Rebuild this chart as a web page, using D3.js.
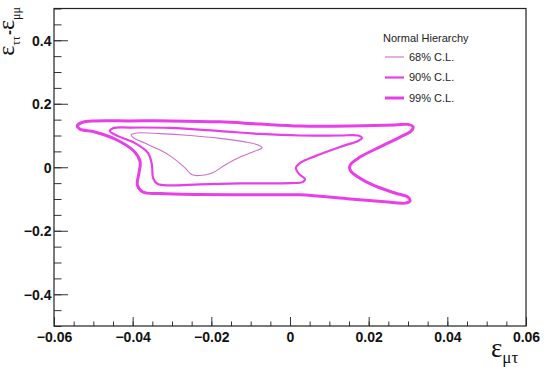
<!DOCTYPE html>
<meta charset='utf-8'>
<head>
  <title>NSI contours</title>
  <style>
    body { margin: 0; background: #fff; }
    svg { display: block; }
  </style>
</head>
<body>
  <div id='chart'></div>
</body>
<script src='https://d3js.org/d3.v7.min.js'></script>
<script>

// contour points [eps_mutau, eps_tautau - eps_mumu]
var cl68 = [
  [-0.0404, 0.102], [-0.0389, 0.108], [-0.0330, 0.106], [-0.0254, 0.100],
  [-0.0178, 0.091], [-0.0114, 0.080], [-0.0081, 0.070], [-0.0071, 0.061],
  [-0.0089, 0.051], [-0.0127, 0.032], [-0.0165, 0.007], [-0.0198, -0.018],
  [-0.0229, -0.026], [-0.0249, -0.024], [-0.0267, -0.002], [-0.0300, 0.032],
  [-0.0330, 0.054], [-0.0369, 0.076], [-0.0397, 0.092]
];
var cl90 = [
  [-0.0458, 0.114], [-0.0447, 0.124], [-0.0407, 0.125], [-0.0305, 0.124],
  [-0.0178, 0.114], [-0.0076, 0.105], [0.0025, 0.100], [0.0127, 0.100],
  [0.0173, 0.100], [0.0183, 0.092], [0.0173, 0.083], [0.0127, 0.064],
  [0.0064, 0.035], [0.0025, 0.013], [0.0015, -0.002], [0.0023, -0.021],
  [0.0038, -0.037], [0.0033, -0.046], [0.0000, -0.050], [-0.0127, -0.051],
  [-0.0229, -0.054], [-0.0305, -0.057], [-0.0336, -0.053], [-0.0348, -0.034],
  [-0.0351, 0.007], [-0.0361, 0.045], [-0.0394, 0.076], [-0.0437, 0.098]
];
var cl99 = [
  [-0.0541, 0.130], [-0.0529, 0.141], [-0.0496, 0.146], [-0.0407, 0.146],
  [-0.0305, 0.146], [-0.0178, 0.143], [-0.0076, 0.136], [0.0025, 0.130],
  [0.0153, 0.130], [0.0267, 0.133], [0.0300, 0.135], [0.0313, 0.127],
  [0.0308, 0.114], [0.0280, 0.095], [0.0229, 0.064], [0.0178, 0.032],
  [0.0153, 0.007], [0.0153, -0.009], [0.0173, -0.031], [0.0216, -0.059],
  [0.0267, -0.081], [0.0300, -0.094], [0.0305, -0.106], [0.0292, -0.113],
  [0.0241, -0.109], [0.0153, -0.100], [0.0025, -0.087], [-0.0076, -0.087],
  [-0.0229, -0.086], [-0.0330, -0.083], [-0.0374, -0.078], [-0.0388, -0.056],
  [-0.0384, -0.018], [-0.0381, 0.017], [-0.0397, 0.051], [-0.0445, 0.089],
  [-0.0496, 0.111], [-0.0534, 0.120]
];

var legendTitle = 'Normal Hierarchy';
var levels = ['68% C.L.', '90% C.L.', '99% C.L.'];
var xTicks = [-0.06, -0.04, -0.02, 0, 0.02, 0.04, 0.06];
var yTicks = [-0.4, -0.2, 0, 0.2, 0.4];

var width = 549,
    height = 367,
    padL = 54,
    padR = 526,
    padT = 8.5,
    padB = 326;

var x = d3.scaleLinear().domain([-0.06, 0.06]).range([padL, padR]),
    y = d3.scaleLinear().domain([-0.5, 0.5]).range([padB, padT]);

var svg = d3.select('#chart').append('svg')
    .attr('width', width)
    .attr('height', height);

svg.append('rect')
    .attr('width', width)
    .attr('height', height)
    .attr('fill', '#fff');

var fmt = function(d) { return d === 0 ? '0' : d3.format('.2~f')(d); };
var fmtY = function(d) { return d === 0 ? '0' : d3.format('.1f')(d); };

// minor ticks first, majors with labels on top
svg.append('g')
    .attr('transform', 'translate(0,' + padB + ')')
    .call(d3.axisBottom(x).tickValues(d3.range(-0.06, 0.0601, 0.005))
      .tickSizeInner(-4.5).tickSizeOuter(0).tickFormat(''))
    .call(g => g.select('.domain').remove());

svg.append('g')
    .attr('transform', 'translate(' + padL + ',0)')
    .call(d3.axisLeft(y).tickValues(d3.range(-0.5, 0.501, 0.05))
      .tickSizeInner(-7.5).tickSizeOuter(0).tickFormat(''))
    .call(g => g.select('.domain').remove());

var xAxis = svg.append('g')
    .attr('transform', 'translate(0,' + padB + ')')
    .call(d3.axisBottom(x).tickValues(xTicks)
      .tickSizeInner(-9).tickSizeOuter(0).tickPadding(6).tickFormat(fmt));

var yAxis = svg.append('g')
    .attr('transform', 'translate(' + padL + ',0)')
    .call(d3.axisLeft(y).tickValues(yTicks)
      .tickSizeInner(-14).tickSizeOuter(0).tickPadding(2.5).tickFormat(fmtY));

svg.selectAll('.tick line').attr('stroke', '#333');
[xAxis, yAxis].forEach(function(a) {
  a.select('.domain').remove();
  a.selectAll('text')
      .attr('font-family', 'Liberation Sans, Arial, sans-serif')
      .attr('font-weight', 'bold')
      .attr('font-size', 14)
      .attr('fill', '#111');
});
yAxis.selectAll('text').attr('dy', '0.36em');

// frame
svg.append('rect')
    .attr('x', padL)
    .attr('y', padT)
    .attr('width', padR - padL)
    .attr('height', padB - padT)
    .attr('fill', 'none')
    .attr('stroke', '#222')
    .attr('stroke-width', 1.2);

// contours
var line = d3.line()
    .x(function(d) { return x(d[0]); })
    .y(function(d) { return y(d[1]); })
    .curve(d3.curveCatmullRomClosed.alpha(0.5));

var styles = [
  {data: cl68, color: '#cc6fd0', w: 1.1},
  {data: cl90, color: '#e83fe8', w: 2.2},
  {data: cl99, color: '#e83fe8', w: 3}
];

svg.selectAll('path.cl')
    .data(styles)
  .enter().append('path')
    .attr('class', 'cl')
    .attr('d', function(d) { return line(d.data); })
    .attr('fill', 'none')
    .attr('stroke', function(d) { return d.color; })
    .attr('stroke-width', function(d) { return d.w; })
    .attr('stroke-linejoin', 'round');

// legend
var legend = svg.append('g')
    .attr('font-family', 'Liberation Sans, Arial, sans-serif')
    .attr('font-size', 11)
    .attr('fill', '#222');

legend.append('text')
    .attr('x', 383)
    .attr('y', 41.5)
    .text(legendTitle);

var rows = legend.selectAll('g.row')
    .data(levels)
  .enter().append('g')
    .attr('class', 'row')
    .attr('transform', function(d, i) { return 'translate(0,' + (57 + i * 20.5) + ')'; });

rows.append('line')
    .attr('x1', 385)
    .attr('x2', 404)
    .attr('stroke', function(d, i) { return styles[i].color; })
    .attr('stroke-width', function(d, i) { return styles[i].w; });

rows.append('text')
    .attr('x', 409)
    .attr('dy', '0.36em')
    .text(function(d) { return d; });

// axis titles
var xt = svg.append('text')
    .attr('x', 491)
    .attr('y', 356.5)
    .attr('font-family', 'Liberation Serif, Times New Roman, serif')
    .attr('font-size', 27)
    .attr('fill', '#111');
xt.append('tspan').text('ε');
xt.append('tspan').attr('font-size', 17).attr('dy', 6).text('μτ');

var yt = svg.append('text')
    .attr('transform', 'translate(13.5,7) rotate(-90)')
    .attr('text-anchor', 'end')
    .attr('font-family', 'Liberation Serif, Times New Roman, serif')
    .attr('font-size', 24)
    .attr('fill', '#111');
yt.append('tspan').text('ε');
yt.append('tspan').attr('font-size', 12).attr('dy', 6).text('ττ');
yt.append('tspan').attr('dy', -6).attr('dx', 1).attr('font-family', 'Liberation Sans, Arial, sans-serif')
    .attr('font-weight', 'bold').attr('font-size', 15).text('-');
yt.append('tspan').text('ε');
yt.append('tspan').attr('font-size', 12).attr('dy', 6).text('μμ');

</script>
